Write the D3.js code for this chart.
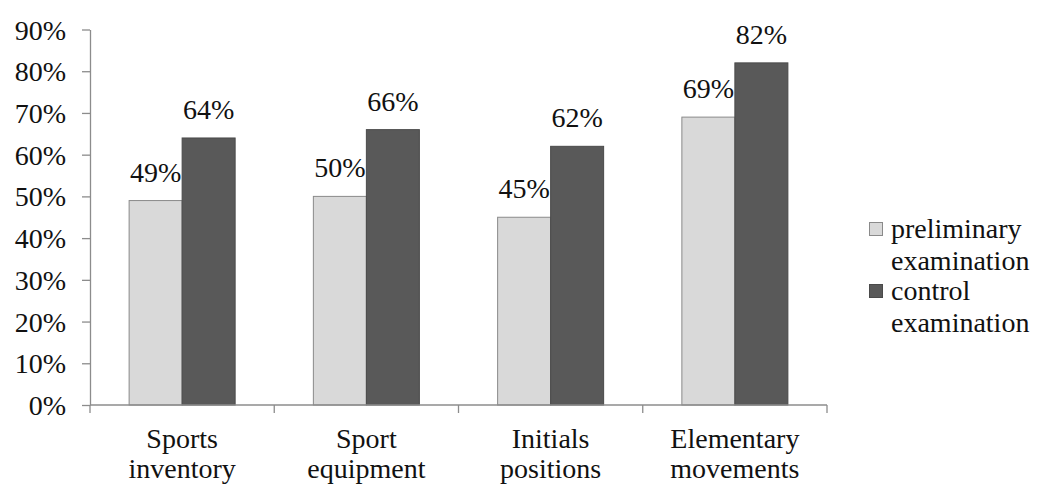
<!DOCTYPE html>
<html>
<head>
<meta charset="utf-8">
<script src="https://cdn.jsdelivr.net/npm/d3@7"></script>
<style>
  html, body { margin: 0; padding: 0; background: #fff; }
  svg { display: block; }
</style>
</head>
<body>
<svg id="fig" width="1040" height="485"></svg>
<script>
// Category labels (two lines each)
const categories = [
  ["Sports", "inventory"],
  ["Sport", "equipment"],
  ["Initials", "positions"],
  ["Elementary", "movements"]
];
const legendLines = [["preliminary", "examination"], ["control", "examination"]];
const preliminary = [0.49, 0.50, 0.45, 0.69];
const control = [0.64, 0.66, 0.62, 0.82];
const yTicks = [0, 0.1, 0.2, 0.3, 0.4, 0.5, 0.6, 0.7, 0.8, 0.9];
const colors = ["#d9d9d9", "#595959"];

const svg = d3.select("#fig");
const plotLeft = 90, plotRight = 827, plotTop = 29.5, plotBottom = 405;
const fontSize = 28;
const textStyle = `font-family: 'Liberation Serif', 'Times New Roman', serif !important; font-size: ${fontSize}px !important;`;

const catKeys = categories.map((c, i) => i);
const x = d3.scaleBand().domain(catKeys).range([plotLeft, plotRight]).paddingInner(0).paddingOuter(0);
const xSub = d3.scaleBand().domain([0, 1]).range([0, x.bandwidth()]).paddingInner(0).paddingOuter(0.738);
const y = d3.scaleLinear().domain([0, 0.9]).range([plotBottom, plotTop]);

const axisColor = "#8c8c8c";

function styleText(sel) {
  return sel.attr("style", textStyle).attr("font-family", "Liberation Serif").attr("fill", "#111");
}

// Y axis
const yAxis = d3.axisLeft(y).tickValues(yTicks).tickFormat(d3.format(".0%")).tickSize(8).tickSizeOuter(0);
const gy = svg.append("g").attr("transform", `translate(${plotLeft},0)`).call(yAxis);
gy.attr("font-family", "Liberation Serif").attr("font-size", fontSize);
gy.select(".domain").attr("stroke", axisColor).attr("stroke-width", 1.3);
gy.selectAll(".tick line").attr("stroke", axisColor).attr("stroke-width", 1.3);
styleText(gy.selectAll(".tick text")).attr("x", -24).attr("dy", "0.34em");

// Series bars with value labels
const series = [preliminary, control];
series.forEach((vals, s) => {
  svg.append("g").selectAll("rect").data(vals).enter().append("rect")
    .attr("x", (d, i) => x(i) + xSub(s))
    .attr("y", d => y(d))
    .attr("width", xSub.bandwidth())
    .attr("height", d => plotBottom - y(d))
    .attr("fill", colors[s])
    .attr("stroke", s === 0 ? "#8a8a8a" : "#4a4a4a")
    .attr("stroke-width", 1);
  styleText(svg.append("g").selectAll("text").data(vals).enter().append("text"))
    .attr("x", (d, i) => x(i) + xSub(s) + xSub.bandwidth() / 2)
    .attr("y", d => y(d) - 19)
    .attr("text-anchor", "middle")
    .text(d => Math.round(d * 100) + "%");
});

// X axis with category separators
const gx = svg.append("g");
gx.append("line").attr("x1", plotLeft).attr("x2", plotRight).attr("y1", plotBottom).attr("y2", plotBottom)
  .attr("stroke", axisColor).attr("stroke-width", 1.3);
const boundaries = catKeys.map(i => x(i)).concat([plotRight]);
gx.selectAll("line.sep").data(boundaries).enter().append("line")
  .attr("class", "sep")
  .attr("x1", d => d).attr("x2", d => d)
  .attr("y1", plotBottom).attr("y2", plotBottom + 8)
  .attr("stroke", axisColor).attr("stroke-width", 1.3);
categories.forEach((lines, i) => {
  lines.forEach((line, k) => {
    styleText(gx.append("text"))
      .attr("x", x(i) + x.bandwidth() / 2)
      .attr("y", 448 + k * 30)
      .attr("text-anchor", "middle")
      .text(line);
  });
});

// Legend
const legend = svg.append("g");
const legendBase = [238, 300];
legendLines.forEach((lines, s) => {
  legend.append("rect")
    .attr("x", 869.5).attr("y", legendBase[s] - 15.5)
    .attr("width", 13).attr("height", 13)
    .attr("fill", colors[s])
    .attr("stroke", s === 0 ? "#8a8a8a" : "#4a4a4a").attr("stroke-width", 1);
  lines.forEach((line, k) => {
    styleText(legend.append("text"))
      .attr("x", 891).attr("y", legendBase[s] + k * 32)
      .text(line);
  });
});
</script>
</body>
</html>
